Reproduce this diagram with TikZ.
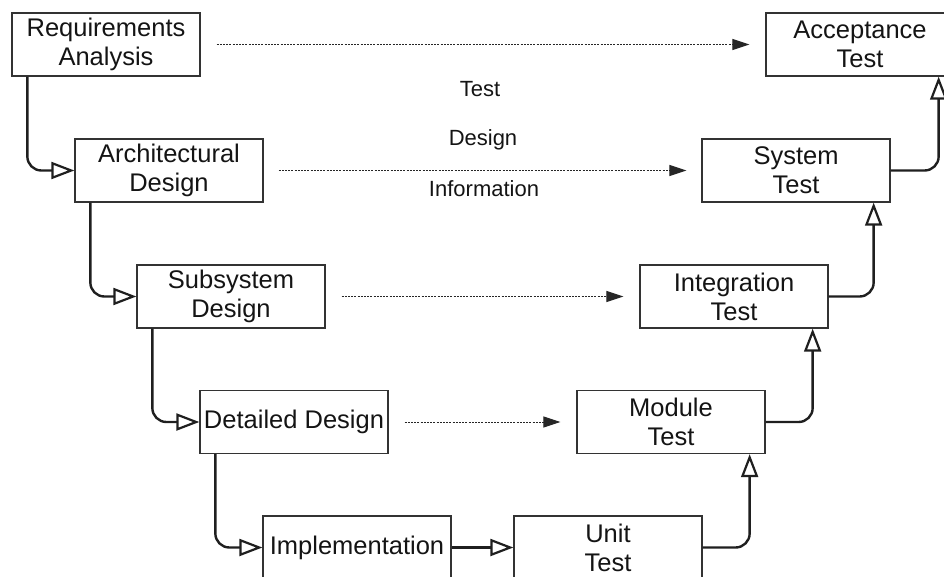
\documentclass[tikz,border=0pt]{standalone}
\usepackage{fontspec}
\setmainfont{Liberation Sans}
\usetikzlibrary{arrows.meta}
\tikzset{
  vbox/.style={draw=black!80, line width=1.3pt, minimum width=188pt, minimum height=63pt,
    inner sep=0pt, align=center, font=\fontsize{25.5}{29}\selectfont, text=black!92},
  conn/.style={line width=2.4pt, draw=black!88, rounded corners=14pt,
    -{Triangle[open, length=23pt, width=17pt, line width=2.2pt]}},
  dotarrow/.style={line width=1pt, draw=black!85, dash pattern=on 2pt off 1.2pt,
    -{Triangle[length=17pt, width=11pt]}},
  lbl/.style={font=\fontsize{22}{26}\selectfont, text=black!92, inner sep=0pt}
}
\begin{document}
\begin{tikzpicture}[x=1pt,y=1pt]
\useasboundingbox (0,0) rectangle (944,-577);
% left column
\node[vbox] (req) at (106,-44.5) {Requirements\\Analysis};
\node[vbox] (arch) at (169,-170.5) {Architectural\\Design};
\node[vbox] (sub) at (231,-296.5) {Subsystem\\Design};
\node[vbox] (det) at (294,-422) {Detailed Design};
\node[vbox] (impl) at (357,-547.5) {Implementation};
% right column
\node[vbox] (acc) at (860,-44.5) {Acceptance\\Test};
\node[vbox] (sys) at (796,-170.5) {System\\Test};
\node[vbox] (integ) at (734,-296.5) {Integration\\Test};
\node[vbox] (mod) at (671,-422) {Module\\Test};
\node[vbox] (unit) at (608,-547.5) {Unit\\Test};
% labels
\node[lbl] (l1) at (480,-89) {Test};
\node[lbl] (l2) at (483,-140) {Design};
\node[lbl] (l3) at (484,-189) {Information};
% down connectors
\draw[conn] ([xshift=16pt]req.south west) |- (arch.west);
\draw[conn] ([xshift=16pt]arch.south west) |- (sub.west);
\draw[conn] ([xshift=16pt]sub.south west) |- (det.west);
\draw[conn] ([xshift=16pt]det.south west) |- (impl.west);
\draw[conn] (impl.east) -- (unit.west);
% up connectors
\draw[conn] (unit.east) -| ([xshift=-16pt]mod.south east);
\draw[conn] (mod.east) -| ([xshift=-16pt]integ.south east);
\draw[conn] (integ.east) -| ([xshift=-17pt]sys.south east);
\draw[conn] (sys.east) -| ([xshift=-16pt]acc.south east);
% dotted arrows
\draw[dotarrow] ([xshift=16pt]req.east) -- ([xshift=-16pt]acc.west);
\draw[dotarrow] ([xshift=15pt]arch.east) -- ([xshift=-15pt]sys.west);
\draw[dotarrow] ([xshift=16pt]sub.east) -- ([xshift=-16pt]integ.west);
\draw[dotarrow] ([xshift=16pt]det.east) -- ([xshift=-16pt]mod.west);
\end{tikzpicture}
\end{document}
